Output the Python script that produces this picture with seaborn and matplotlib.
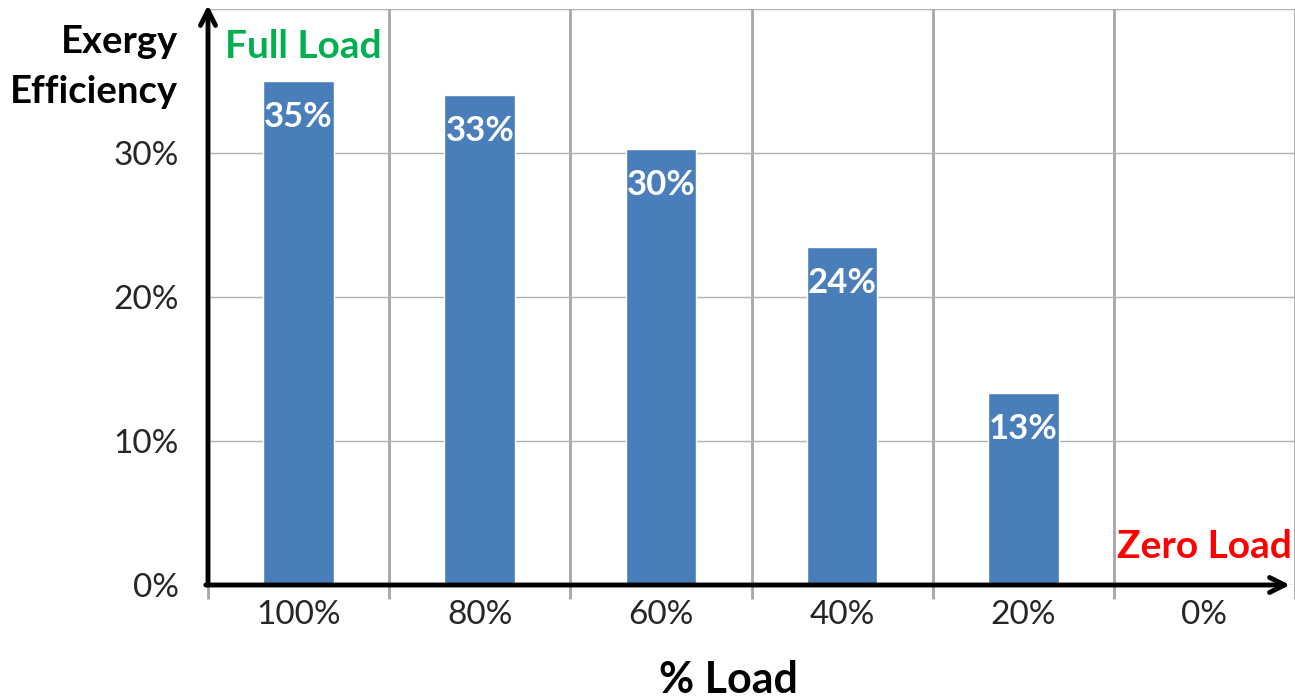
import matplotlib
matplotlib.use("Agg")
import matplotlib.pyplot as plt
import seaborn as sns
import pandas as pd
import numpy as np

# Data
loads = ["100%", "80%", "60%", "40%", "20%", "0%"]
efficiency = [35.0, 34.0, 30.3, 23.5, 13.3, 0.0]
bar_labels = ["35%", "33%", "30%", "24%", "13%", ""]
y_ticks = [0, 10, 20, 30]
y_ticklabels = ["0%", "10%", "20%", "30%"]

sns.set_theme(style="white")
plt.rcParams["font.family"] = ["Lato", "DejaVu Sans"]

df = pd.DataFrame({"load": loads, "eff": efficiency})

fig = plt.figure(figsize=(12.95, 6.98), dpi=100)
ax = fig.add_axes([208 / 1295, 1 - 585 / 698, 1 - 208 / 1295, (585 - 9) / 698])

sns.barplot(data=df, x="load", y="eff", order=loads, color="#4a7ebb",
            saturation=1, width=0.39, ax=ax, zorder=3)

ax.set_xlim(-0.5, 5.5)
ax.set_ylim(0, 40)
for s in ax.spines.values():
    s.set_visible(False)

# horizontal gridlines
ax.set_yticks(y_ticks + [40])
ax.set_yticklabels(y_ticklabels + [""])
ax.yaxis.grid(True, color="#b0b0b0", linewidth=1.0, zorder=0)
ax.tick_params(axis="y", length=0, pad=21, labelsize=24)

# category separators
seps = np.arange(-0.5, 6.0, 1.0)
ax.set_xticks(seps, minor=True)
ax.xaxis.grid(True, which="minor", color="#a6a6a6", linewidth=2.0, zorder=0)
ax.xaxis.grid(False, which="major")
ax.tick_params(axis="x", which="minor", length=10, width=2, color="#a6a6a6",
               direction="out", bottom=True)
ax.tick_params(axis="x", which="major", length=0, pad=11, labelsize=24)
ax.set_xlabel("")
ax.set_ylabel("")

# axis arrows
ax.annotate("", xy=(0, 1 + 4 / 576), xytext=(0, 0), xycoords="axes fraction",
            textcoords="axes fraction", annotation_clip=False,
            arrowprops=dict(arrowstyle="->,head_length=0.9,head_width=0.45",
                            lw=3.5, color="black", shrinkA=0, shrinkB=0),
            zorder=6)
ax.annotate("", xy=(1082 / 1087, 0), xytext=(-0.002, 0), xycoords="axes fraction",
            textcoords="axes fraction", annotation_clip=False,
            arrowprops=dict(arrowstyle="->,head_length=0.9,head_width=0.45",
                            lw=3.5, color="black", shrinkA=0, shrinkB=0),
            zorder=6)

# bar value labels
for i, (v, lab) in enumerate(zip(efficiency, bar_labels)):
    if lab:
        ax.text(i, v - 2.5, lab, ha="center", va="center", color="white",
                fontsize=25, fontweight="bold", zorder=5)

# annotations
fig.text(178 / 1295, 1 - 42 / 698, "Exergy", ha="right", va="center",
         fontsize=27.5, fontweight="bold", color="black")
fig.text(178 / 1295, 1 - 92 / 698, "Efficiency", ha="right", va="center",
         fontsize=27.5, fontweight="bold", color="black")
fig.text(225 / 1295, 1 - 47 / 698, "Full Load", ha="left", va="center",
         fontsize=28, fontweight="bold", color="#00b050")
fig.text(1292 / 1295, 1 - 547 / 698, "Zero Load", ha="right", va="center",
         fontsize=28, fontweight="bold", color="#ff0000")
fig.text(728 / 1295, 1 - 680 / 698, "% Load", ha="center", va="center",
         fontsize=31, fontweight="bold", color="black")

fig.savefig("out.png", dpi=100)
